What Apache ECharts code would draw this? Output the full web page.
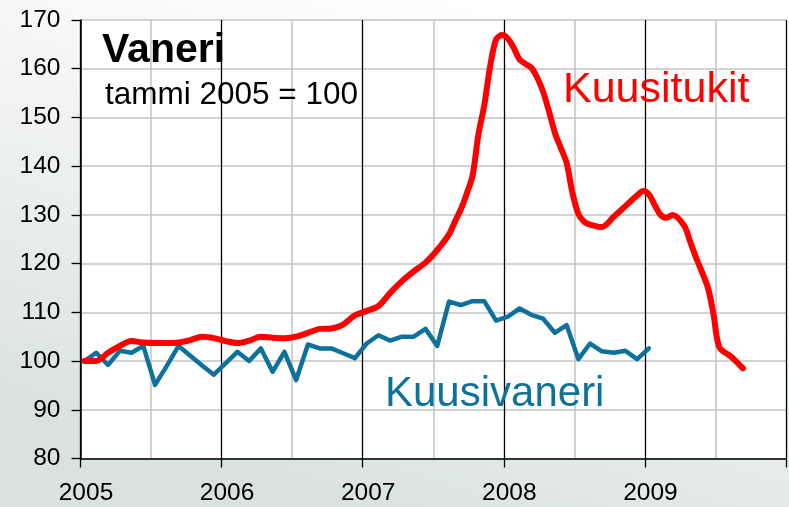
<!DOCTYPE html>
<html>
<head>
<meta charset="utf-8">
<script src="https://cdn.jsdelivr.net/npm/echarts@6/dist/echarts.min.js"></script>
<style>
html,body{margin:0;padding:0;background:#fff;}
#chart{width:789px;height:507px;}
</style>
</head>
<body>
<div id="chart"></div>
<script>
// Monthly series starting January 2005 (month index 0 = tammi 2005)
const startYear = 2005;
const yearTicks = [2005, 2006, 2007, 2008, 2009, 2010];
const yTicks = [80, 90, 100, 110, 120, 130, 140, 150, 160, 170];

// Kuusivaneri, monthly Jan 2005 – Jan 2009
const vaneriValues = [
  100, 101.7, 99.2, 102.1, 101.7, 103.1, 95.1, 99.0, 103.1, 101.1, 99.1, 97.2,
  99.5, 101.9, 100.0, 102.6, 97.8, 101.9, 96.1, 103.4, 102.6, 102.6, 101.6, 100.6,
  103.6, 105.3, 104.2, 105.0, 105.0, 106.6, 103.1, 112.2, 111.5, 112.3, 112.3, 108.3,
  109.1, 110.8, 109.5, 108.7, 105.8, 107.4, 100.4, 103.6, 102.0, 101.7, 102.1, 100.4,
  102.6
];

// Kuusitukit, month offsets from Jan 2005 (half months where the curve turns fast)
const tukitMonths = [
  0, 1, 2, 3, 4, 5, 6, 7, 8, 9, 10, 11,
  12, 13, 14, 15, 16, 17, 18, 19, 20, 21, 22, 23,
  24, 25, 26, 27, 28, 29, 30, 31, 31.5, 32, 32.5, 33, 33.5, 34, 34.5, 35, 35.5,
  36, 36.5, 37, 37.5, 38, 38.5, 39, 39.5, 40, 40.5, 41, 41.5, 42, 42.5, 43, 44, 45, 46, 47, 47.5,
  48, 48.5, 49, 49.5, 50, 51, 51.5, 52, 53, 53.5, 54, 55, 56
];
const tukitValues = [
  100, 100, 101.7, 103.1, 104.1, 103.8, 103.7, 103.7, 103.8, 104.3, 105.0, 104.7,
  104.1, 103.7, 104.2, 105.0, 104.8, 104.7, 105.0, 105.8, 106.6, 106.7, 107.5, 109.4,
  110.3, 111.3, 114.0, 116.4, 118.4, 120.2, 122.8, 126.0, 128.6, 131.1, 134.3, 138.0, 146.5, 152.5, 160.5, 166.0, 166.9,
  166.2, 164.3, 161.9, 161.0, 160.2, 158.2, 155.3, 151.3, 146.9, 143.8, 140.7, 134.5, 130.2, 128.6, 128.0, 127.5, 129.6, 131.8, 134.0, 134.9,
  134.2, 132.0, 130.0, 129.4, 130.0, 127.8, 124.6, 121.3, 115.2, 109.5, 102.8, 100.9, 98.5
];

const monthShift = 0.34; // points sit slightly right of the year tick, as in the source
const toX = m => startYear + (m + monthShift) / 12;

const vaneriData = vaneriValues.map((v, i) => [toX(i), v]);
const tukitData = tukitValues.map((v, i) => [toX(tukitMonths[i]), v]);

const RED = '#ff0000';
const BLUE = '#0e719c';
const FONT = '"Liberation Sans", Arial, sans-serif';

const chart = echarts.init(document.getElementById('chart'), null, {renderer: 'canvas'});
chart.setOption({
  animation: false,
  backgroundColor: {
    type: 'linear', x: 0.6, y: 0, x2: 0.4, y2: 1,
    colorStops: [
      {offset: 0, color: '#ffffff'},
      {offset: 0.4, color: '#f2f4f3'},
      {offset: 1, color: '#d9e2df'}
    ]
  },
  grid: {
    left: 80.5, right: 2, top: 20, bottom: 48.5,
    show: true, backgroundColor: '#ffffff', borderWidth: 0
  },
  xAxis: {
    type: 'value',
    min: yearTicks[0], max: yearTicks[yearTicks.length - 1], interval: 1,
    axisLine: {show: true, onZero: false, lineStyle: {color: '#000', width: 1.5}},
    axisTick: {show: true, length: 9, lineStyle: {color: '#000', width: 1.3}},
    axisLabel: {
      color: '#000', fontSize: 24.5, fontFamily: FONT, margin: 22,
      padding: [0, 0, 0, 11],
      formatter: v => (v < yearTicks[yearTicks.length - 1] ? String(v) : '')
    },
    splitLine: {show: true, lineStyle: {color: '#000', width: 1.3}},
    minorTick: {show: false, splitNumber: 2},
    minorSplitLine: {show: true, lineStyle: {color: '#c4c4c4', width: 1.5}},
    z: 3
  },
  yAxis: {
    type: 'value',
    min: yTicks[0], max: yTicks[yTicks.length - 1], interval: 10,
    axisLine: {show: true, lineStyle: {color: '#000', width: 1.5}},
    axisTick: {show: true, length: 9, lineStyle: {color: '#000', width: 1.3}},
    axisLabel: {color: '#000', fontSize: 24.5, fontFamily: FONT, margin: 20},
    splitLine: {show: true, lineStyle: {color: '#c4c4c4', width: 1.5}},
    z: 2
  },
  series: [
    {
      name: 'Kuusivaneri', type: 'line', data: vaneriData,
      showSymbol: false, symbol: 'none', smooth: false,
      lineStyle: {color: BLUE, width: 4.5, cap: 'round', join: 'round'},
      z: 5
    },
    {
      name: 'Kuusitukit', type: 'line', data: tukitData,
      showSymbol: false, symbol: 'none', smooth: 0.3,
      lineStyle: {color: RED, width: 6, cap: 'round', join: 'round'},
      z: 6
    }
  ],
  graphic: [
    {type: 'text', left: 102, top: 30, z: 10,
     style: {text: 'Vaneri', fill: '#000', font: 'bold 41px ' + FONT}},
    {type: 'text', left: 105, top: 79, z: 10,
     style: {text: 'tammi 2005 = 100', fill: '#000', font: '31.5px ' + FONT}},
    {type: 'text', left: 563, top: 69, z: 10,
     style: {text: 'Kuusitukit', fill: RED, font: '43px ' + FONT}},
    {type: 'text', left: 385, top: 373, z: 10,
     style: {text: 'Kuusivaneri', fill: BLUE, font: '42px ' + FONT}}
  ]
});
</script>
</body>
</html>
